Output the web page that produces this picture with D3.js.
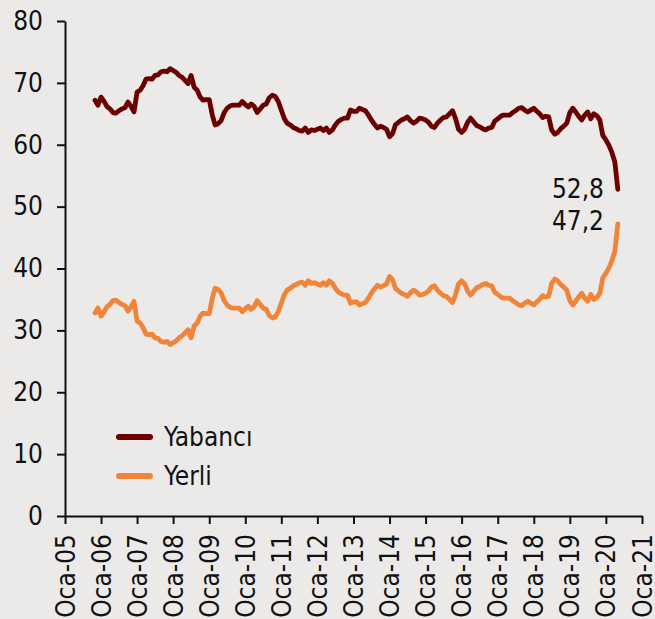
<!DOCTYPE html>
<html>
<head>
<meta charset="utf-8">
<script src="https://cdn.jsdelivr.net/npm/d3@7"></script>
<style>
  html, body { margin: 0; padding: 0; background: #eceae9; }
  svg text { font-family: "DejaVu Sans Condensed", "DejaVu Sans", sans-serif; font-stretch: condensed; fill: #111; }
</style>
</head>
<body>
<div id="chart"></div>
<script>
// monthly, Kas-05 .. May-20
const firstMonth = new Date(2005, 10, 1);

const yabanci = [
  67.2, 66.4, 67.7, 67.0, 66.2, 65.8, 65.2, 65.1, 65.5, 65.8, 66.0, 66.9, 66.2, 65.3,
  68.5, 68.8, 69.5, 70.6, 70.7, 70.6, 71.2, 71.3, 71.8, 71.9, 71.8, 72.3,
  72.0, 71.7, 71.2, 70.9, 70.4, 69.9, 71.2, 69.3, 68.8, 67.7, 67.2, 67.3,
  67.3, 64.8, 63.2, 63.4, 63.9, 65.2, 65.9, 66.3, 66.4, 66.4, 66.4, 67.0,
  66.5, 66.1, 66.6, 66.2, 65.2, 65.8, 66.4, 66.6, 67.6, 68.0, 67.8, 67.0,
  65.6, 64.2, 63.5, 63.2, 62.8, 62.6, 62.3, 62.2, 62.7, 62.0, 62.4, 62.3,
  62.5, 62.7, 62.3, 62.7, 62.0, 62.4, 63.2, 63.8, 64.1, 64.3, 64.3, 65.6,
  65.4, 65.4, 65.9, 65.7, 65.5, 64.8, 64.0, 63.3, 62.7, 63.0, 62.8, 62.5,
  61.3, 61.8, 63.2, 63.6, 64.0, 64.2, 64.5, 63.9, 63.5, 63.8, 64.3, 64.2,
  64.0, 63.6, 63.0, 62.8, 63.5, 64.0, 64.4, 64.5, 65.0, 65.5, 64.2, 62.5,
  62.0, 62.5, 63.6, 64.3, 63.7, 63.1, 62.9, 62.6, 62.4, 62.7, 62.8, 63.8,
  64.2, 64.6, 64.8, 64.8, 64.8, 65.2, 65.5, 65.9, 66.0, 65.6, 65.3, 65.6,
  65.9, 65.4, 65.0, 64.4, 64.6, 64.5, 62.4, 61.7, 62.0, 62.6, 63.0, 63.5,
  65.2, 65.9, 65.3, 64.6, 64.0, 64.8, 65.3, 64.2, 65.0, 64.7, 64.0, 61.5,
  60.8, 59.9, 58.8, 57.2, 52.8
];

const yerli = [
  32.8, 33.6, 32.3, 33.0, 33.8, 34.2, 34.8, 34.9, 34.5, 34.2, 34.0, 33.1, 33.8, 34.7,
  31.5, 31.2, 30.5, 29.4, 29.3, 29.4, 28.8, 28.7, 28.2, 28.1, 28.2, 27.7,
  28.0, 28.3, 28.8, 29.1, 29.6, 30.1, 28.8, 30.7, 31.2, 32.3, 32.8, 32.7,
  32.7, 35.2, 36.8, 36.6, 36.1, 34.8, 34.1, 33.7, 33.6, 33.6, 33.6, 33.0,
  33.5, 33.9, 33.4, 33.8, 34.8, 34.2, 33.6, 33.4, 32.4, 32.0, 32.2, 33.0,
  34.4, 35.8, 36.5, 36.8, 37.2, 37.4, 37.7, 37.8, 37.3, 38.0, 37.6, 37.7,
  37.5, 37.3, 37.7, 37.3, 38.0, 37.6, 36.8, 36.2, 35.9, 35.7, 35.7, 34.4,
  34.6, 34.6, 34.1, 34.3, 34.5, 35.2, 36.0, 36.7, 37.3, 37.0, 37.2, 37.5,
  38.7, 38.2, 36.8, 36.4, 36.0, 35.8, 35.5, 36.1, 36.5, 36.2, 35.7, 35.8,
  36.0, 36.4, 37.0, 37.2, 36.5, 36.0, 35.6, 35.5, 35.0, 34.5, 35.8, 37.5,
  38.0, 37.5, 36.4, 35.7, 36.3, 36.9, 37.1, 37.4, 37.6, 37.3, 37.2, 36.2,
  35.8, 35.4, 35.2, 35.2, 35.2, 34.8, 34.5, 34.1, 34.0, 34.4, 34.7, 34.4,
  34.1, 34.6, 35.0, 35.6, 35.4, 35.5, 37.6, 38.3, 38.0, 37.4, 37.0, 36.5,
  34.8, 34.1, 34.7, 35.4, 36.0, 35.2, 34.7, 35.8, 35.0, 35.3, 36.0, 38.5,
  39.2, 40.1, 41.2, 42.8, 47.2
];

const yTicks = [0, 10, 20, 30, 40, 50, 60, 70, 80];
const xTickYears = d3.range(2005, 2022);
const seriesNames = ['Yabancı', 'Yerli'];
const seriesColors = ['#6b0000', '#f08438'];
const endLabels = ['52,8', '47,2'];

const width = 655;
const height = 619;

const svg = d3.select('#chart')
  .append('svg')
    .attr('width', width)
    .attr('height', height);

const x = d3.scaleTime()
  .domain([new Date(2005, 0, 1), new Date(2021, 0, 1)])
  .range([65, 642]);

const y = d3.scaleLinear()
  .domain([0, 80])
  .range([516, 21]);

const months = yabanci.map((d, i) => d3.timeMonth.offset(firstMonth, i));

const line = d3.line()
  .x(d => x(d[0]))
  .y(d => y(d[1]));

[yabanci, yerli].forEach((values, k) => {
  svg.append('path')
    .datum(values.map((v, i) => [months[i], v]))
    .attr('fill', 'none')
    .attr('stroke', seriesColors[k])
    .attr('stroke-width', 4.8)
    .attr('stroke-linejoin', 'round')
    .attr('stroke-linecap', 'round')
    .attr('d', line);
});

// y axis
const yAxis = svg.append('g')
  .attr('transform', 'translate(65,0)')
  .call(d3.axisLeft(y).tickValues(yTicks).tickSize(8).tickPadding(14).tickSizeOuter(0));

// x axis
const xAxis = svg.append('g')
  .attr('transform', 'translate(0,516)')
  .call(d3.axisBottom(x)
    .tickValues(xTickYears.map(yr => new Date(yr, 0, 1)))
    .tickFormat(d => 'Oca-' + d3.timeFormat('%y')(d))
    .tickSize(8)
    .tickSizeOuter(0));

[yAxis, xAxis].forEach(g => {
  g.select('.domain').attr('stroke', '#111').attr('stroke-width', 2);
  g.selectAll('.tick line').attr('stroke', '#111').attr('stroke-width', 2);
  g.selectAll('text').attr('font-size', 26).attr('fill', '#111')
    .style('font-family', '"DejaVu Sans Condensed", "DejaVu Sans", sans-serif');
});

xAxis.selectAll('text')
  .attr('transform', 'rotate(-90)')
  .attr('text-anchor', 'end')
  .attr('dy', '0.35em')
  .attr('x', -18)
  .attr('y', 0);

// end labels
svg.append('text')
  .attr('x', 604)
  .attr('y', 198)
  .attr('text-anchor', 'end')
  .attr('font-size', 26)
  .text(endLabels[0]);
svg.append('text')
  .attr('x', 604)
  .attr('y', 230)
  .attr('text-anchor', 'end')
  .attr('font-size', 26)
  .text(endLabels[1]);

// legend
const legend = svg.append('g')
  .attr('transform', 'translate(117,437)');

seriesNames.forEach((name, k) => {
  const row = legend.append('g')
    .attr('transform', `translate(0,${k * 39})`);
  row.append('line')
    .attr('x1', 2).attr('x2', 33)
    .attr('stroke', seriesColors[k])
    .attr('stroke-width', 6)
    .attr('stroke-linecap', 'round');
  row.append('text')
    .attr('x', 47)
    .attr('dy', '0.36em')
    .attr('font-size', 26)
    .text(name);
});
</script>
</body>
</html>
